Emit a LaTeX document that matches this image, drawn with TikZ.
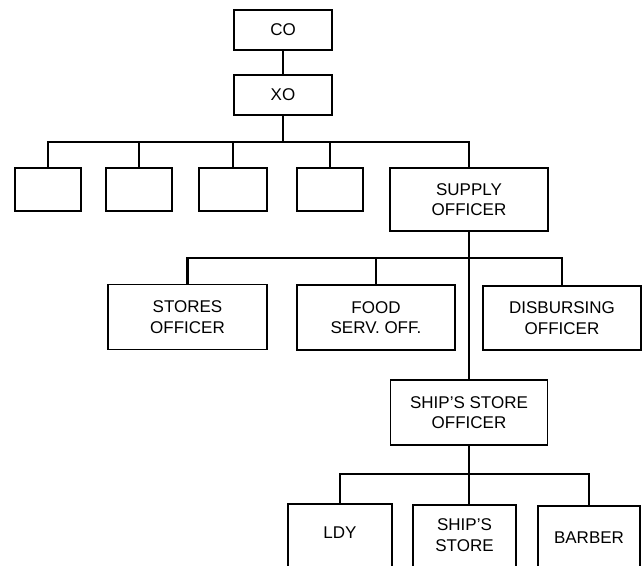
\documentclass[tikz,border=0pt]{standalone}
\usepackage{fontspec}
\setmainfont{Liberation Sans}
\begin{document}
\begin{tikzpicture}[x=1pt,y=-1pt,
  box/.style={draw, line width=1.8pt, inner sep=0pt, align=center,
    font=\fontsize{17}{20.5}\selectfont},
  lbl/.style={inner sep=0pt, align=center, font=\fontsize{17}{20.5}\selectfont},
  conn/.style={line width=2.3pt, line join=miter}]
\useasboundingbox (0,0) rectangle (642,565);
\fill[white] (0,0) rectangle (642,565);
\clip (0,0) rectangle (642,565);
% top
\node[box, minimum width=98, minimum height=40] (co) at (283,30) {CO};
\node[box, minimum width=98, minimum height=40] (xo) at (283,95) {XO};
% second level
\node[box, minimum width=66, minimum height=43] (n1) at (48,189.5) {};
\node[box, minimum width=66, minimum height=43] (n2) at (139,189.5) {};
\node[box, minimum width=68, minimum height=43] (n3) at (233,189.5) {};
\node[box, minimum width=66, minimum height=43] (n4) at (330,189.5) {};
\node[box, minimum width=158, minimum height=63] (sup) at (469,199.5) {SUPPLY\\OFFICER};
% third level
\node[box, minimum width=159, minimum height=65] (st) at (187.5,317) {STORES\\OFFICER};
\node[box, minimum width=158, minimum height=65] (fd) at (376,317.5) {FOOD\\SERV. OFF.};
\node[box, minimum width=158, minimum height=64] (dis) at (562,318) {DISBURSING\\OFFICER};
\node[box, minimum width=157, minimum height=65] (sso) at (469,412.5) {SHIP'S STORE\\OFFICER};
% bottom level (cut off by the page edge)
\node[box, minimum width=104, minimum height=90, anchor=north] (ldy) at (340,503) {};
\node[box, minimum width=103, minimum height=90, anchor=north] (ss) at (464.5,504) {};
\node[box, minimum width=102, minimum height=90, anchor=north] (bar) at (589,505) {};
\node[lbl] (ldyt) at (340,533) {LDY};
\node[lbl] (sst) at (464.5,535) {SHIP'S\\STORE};
\node[lbl] (bart) at (589,538) {BARBER};
% junctions
\coordinate (j1) at (283,142);
\coordinate (j2) at (469,258);
\coordinate (j3) at (469,474);
% connectors
\draw[conn] (co.south) -- (xo.north);
\draw[conn] (xo.south) -- (j1);
\draw[conn] (n1.north) |- (j1) -| (sup.north);
\draw[conn] (n2.north) -- (n2.north |- j1);
\draw[conn] (n3.north) -- (n3.north |- j1);
\draw[conn] (n4.north) -- (n4.north |- j1);
\draw[conn] (sup.south) -- (sso.north);
\draw[conn] (st.north) |- (j2) -| (dis.north);
\draw[conn] (fd.north) -- (fd.north |- j2);
\draw[conn] (sso.south) -- (j3);
\draw[conn] (ldy.north) |- (j3) -| (bar.north);
\draw[conn] (j3) -- (j3 |- ss.north);
\end{tikzpicture}
\end{document}
